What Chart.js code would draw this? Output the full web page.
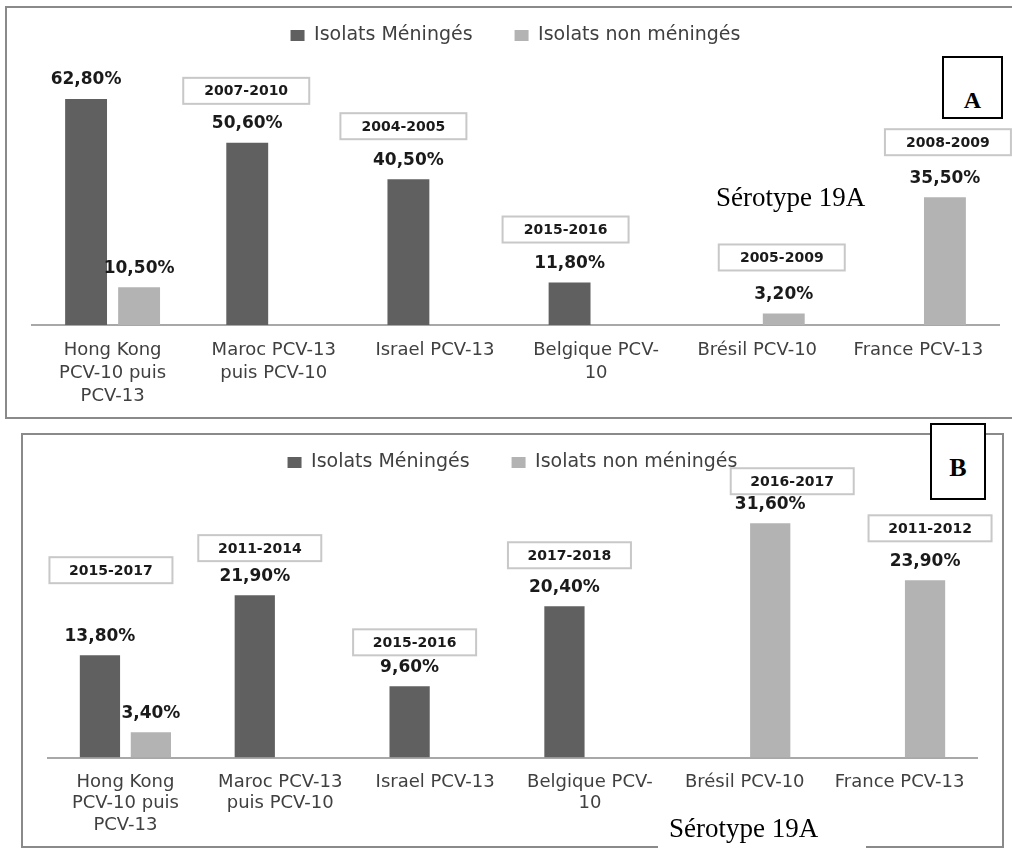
<!DOCTYPE html>
<html>
<head>
<meta charset="utf-8">
<script src="https://cdn.jsdelivr.net/npm/chart.js@4"></script>
<style>
  html, body { margin: 0; padding: 0; background: #fff; }
  body { width: 1012px; height: 848px; position: relative; overflow: hidden; }
  .frame { position: absolute; box-sizing: border-box; border: 2px solid #8a8a8a; }
  canvas { position: absolute; }
  .tag { position: absolute; box-sizing: border-box; border: 2px solid #000; background: #fff;
         font-family: "Liberation Serif", serif; font-weight: bold; text-align: center; color: #000; }
  .serotype { position: absolute; font-family: "Liberation Serif", serif; font-size: 27px;
              line-height: 27px; color: #000; white-space: nowrap; }
</style>
</head>
<body>
<div class="frame" style="left:5px;top:6px;width:1020px;height:413px;"></div>
<div class="frame" style="left:21px;top:433px;width:983px;height:415px;"></div>
<div style="position:absolute;left:658px;top:843px;width:208px;height:5px;background:#fff;"></div>

<canvas id="chartA" width="1006" height="411" style="left:6px;top:7px;"></canvas>
<canvas id="chartB" width="981" height="413" style="left:22px;top:433px;"></canvas>

<div class="serotype" style="left:716px;top:184px;">Sérotype 19A</div>
<div class="serotype" style="left:669px;top:815px;">Sérotype 19A</div>
<div class="tag" style="left:942px;top:56px;width:61px;height:63px;font-size:24px;line-height:24px;padding-top:30px;">A</div>
<div class="tag" style="left:930px;top:423px;width:56px;height:77px;font-size:26px;line-height:26px;padding-top:30px;">B</div>

<script>
// categories (same for both panels)
const categories = [
  ['Hong Kong', 'PCV-10 puis', 'PCV-13'],
  ['Maroc PCV-13', 'puis PCV-10'],
  'Israel PCV-13',
  ['Belgique PCV-', '10'],
  'Brésil PCV-10',
  'France PCV-13'
]

// panel A
const meningesA = [62.8, 50.6, 40.5, 11.8, null, null]
const nonMeningesA = [10.5, null, null, null, 3.2, 35.5]
const periodsA = [null, '2007-2010', '2004-2005', '2015-2016', '2005-2009', '2008-2009']

// panel B
const meningesB = [13.8, 21.9, 9.6, 20.4, null, null]
const nonMeningesB = [3.4, null, null, null, 31.6, 23.9]
const periodsB = ['2015-2017', '2011-2014', '2015-2016', '2017-2018', '2016-2017', '2011-2012']

// the period boxes were placed by hand in the original, small nudges (px)
const boxShiftA = [0, -1, -5, -4, -2, 3]
const boxLiftA = [0, 39, 40, 40, 43, 42]
const boxShiftB = [11, 5, 5, 5, 22, 5]
const boxLiftB = [72, 34, 31, 38, 29, 39]

const darkGrey = '#606060'
const lightGrey = '#b3b3b3'

function pct(v) {
  return v.toFixed(2).replace('.', ',') + '%'
}

const barLabels = {
  id: 'barLabels',
  afterDatasetsDraw(chart, args, opts) {
    const ctx = chart.ctx
    const sets = chart.data.datasets
    ctx.save()
    ctx.textAlign = 'center'
    ctx.textBaseline = 'middle'

    // value labels
    ctx.font = 'bold 17px "DejaVu Sans"'
    ctx.fillStyle = '#1a1a1a'
    sets.forEach(function(ds, i) {
      chart.getDatasetMeta(i).data.forEach(function(bar, j) {
        if (ds.data[j] == null) return
        ctx.fillText(pct(ds.data[j]), bar.x, bar.y - 19)
      })
    })

    // period boxes, anchored on the tallest bar of the category
    ctx.font = 'bold 14px "DejaVu Sans"'
    opts.periods.forEach(function(p, j) {
      if (!p) return
      let best = -1
      sets.forEach(function(ds, i) {
        if (ds.data[j] != null && (best < 0 || ds.data[j] > sets[best].data[j])) best = i
      })
      const bar = chart.getDatasetMeta(best).data[j]
      const w = opts.boxWidth
      const h = 26
      const cx = bar.x + opts.shift[j]
      const bottom = bar.y - opts.lift[j]
      ctx.fillStyle = '#fff'
      ctx.fillRect(cx - w / 2, bottom - h, w, h)
      ctx.strokeStyle = '#c8c8c8'
      ctx.lineWidth = 2
      ctx.strokeRect(cx - w / 2, bottom - h, w, h)
      ctx.fillStyle = '#1a1a1a'
      ctx.fillText(p, cx, bottom - h / 2 + 1)
    })
    ctx.restore()
  }
}

function makeChart(id, mening, nonMening, periods, shift, lift, opts) {
  const ctx = document.getElementById(id).getContext('2d')
  return new Chart(ctx, {
    type: 'bar',
    data: {
      labels: categories,
      datasets: [
        {
          label: 'Isolats Méningés',
          data: mening,
          backgroundColor: darkGrey,
          barPercentage: 0.79,
          categoryPercentage: 0.658
        },
        {
          label: 'Isolats non méningés',
          data: nonMening,
          backgroundColor: lightGrey,
          barPercentage: 0.79,
          categoryPercentage: 0.658
        }
      ]
    },
    options: {
      responsive: false,
      animation: false,
      layout: { padding: opts.padding },
      plugins: {
        tooltip: { enabled: false },
        legend: {
          position: 'top',
          labels: {
            font: { family: 'DejaVu Sans', size: 19 },
            color: '#404040',
            boxWidth: 14,
            boxHeight: 11,
            padding: 42
          }
        },
        barLabels: { periods: periods, shift: shift, lift: lift, boxWidth: opts.boxWidth }
      },
      scales: {
        x: {
          grid: { display: false, drawTicks: false },
          border: { display: true, color: '#a8a8a8', width: 2 },
          ticks: {
            font: { family: 'DejaVu Sans', size: 18, lineHeight: opts.lineHeight },
            color: '#404040',
            padding: opts.tickPadding,
            maxRotation: 0,
            autoSkip: false
          }
        },
        y: { display: false, min: 0, max: opts.max }
      }
    },
    plugins: [barLabels]
  })
}

makeChart('chartA', meningesA, nonMeningesA, periodsA, boxShiftA, boxLiftA, {
  padding: { top: -23, left: 26, right: 13, bottom: -3 },
  max: 75,
  lineHeight: '23px',
  tickPadding: 13.5,
  boxWidth: 126
})

makeChart('chartB', meningesB, nonMeningesB, periodsB, boxShiftB, boxLiftB, {
  padding: { top: -22, left: 26, right: 26, bottom: -4 },
  max: 37.16,
  lineHeight: '21.5px',
  tickPadding: 14,
  boxWidth: 123
})
</script>
</body>
</html>
